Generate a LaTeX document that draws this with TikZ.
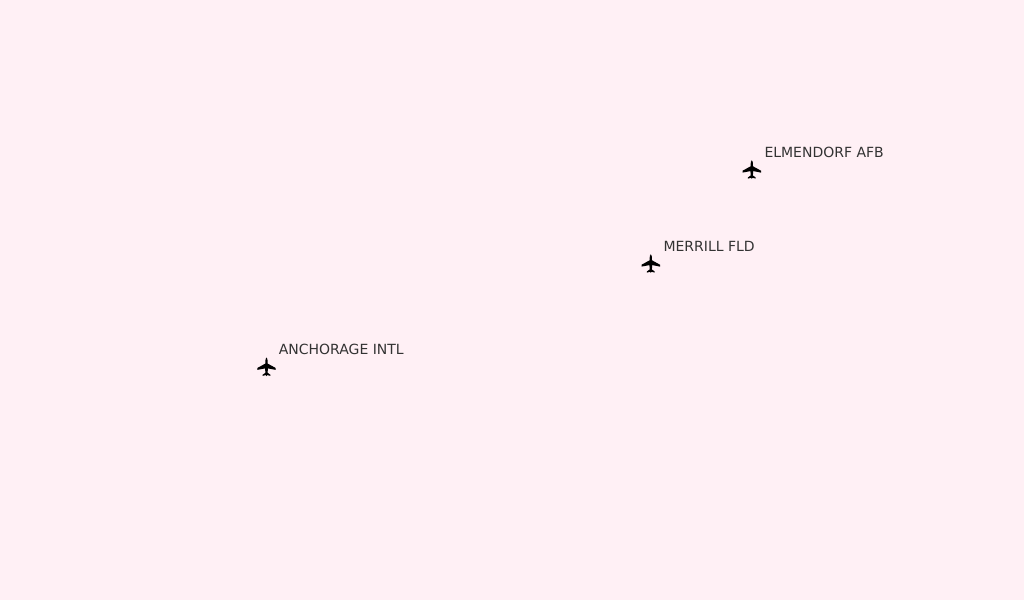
\documentclass[tikz,border=0pt]{standalone}
\usepackage{fontspec}
\setmainfont{DejaVu Sans}
\definecolor{bgpink}{HTML}{FFF0F5}
\definecolor{labelgrey}{HTML}{333333}
\tikzset{
  x=1pt,y=-1pt,
  airportlabel/.style={anchor=base west,inner sep=0pt,outer sep=0pt,text=labelgrey,font=\fontsize{14}{16}\selectfont},
  planeglyph/.pic={
    \fill[black] (0,-9.3) .. controls (0.7,-9.3) and (1.2,-7) .. (1.2,-3.2)
      -- (9.2,1.2) -- (9.2,3.1) -- (1.4,1.6) -- (1.1,6) -- (3.9,7.9) -- (3.9,9.1)
      -- (0.7,8.3) -- (0,9.3) -- (-0.7,8.3) -- (-3.9,9.1) -- (-3.9,7.9) -- (-1.1,6)
      -- (-1.4,1.6) -- (-9.2,3.1) -- (-9.2,1.2) -- (-1.2,-3.2)
      .. controls (-1.2,-7) and (-0.7,-9.3) .. (0,-9.3) -- cycle;
  }
}
\begin{document}
\begin{tikzpicture}
\useasboundingbox (0,0) rectangle (1024,600);
\fill[bgpink] (0,0) rectangle (1024,600);
\pic at (751.8,169.5) {planeglyph};
\pic at (650.8,263.5) {planeglyph};
\pic at (266.5,366.8) {planeglyph};
\node[airportlabel] (elmendorf) at (764.5,157.75) {ELMENDORF AFB};
\node[airportlabel] (merrill) at (663.5,251.75) {MERRILL FLD};
\node[airportlabel] (anchorage) at (278.8,354.2) {ANCHORAGE INTL};
\end{tikzpicture}
\end{document}
